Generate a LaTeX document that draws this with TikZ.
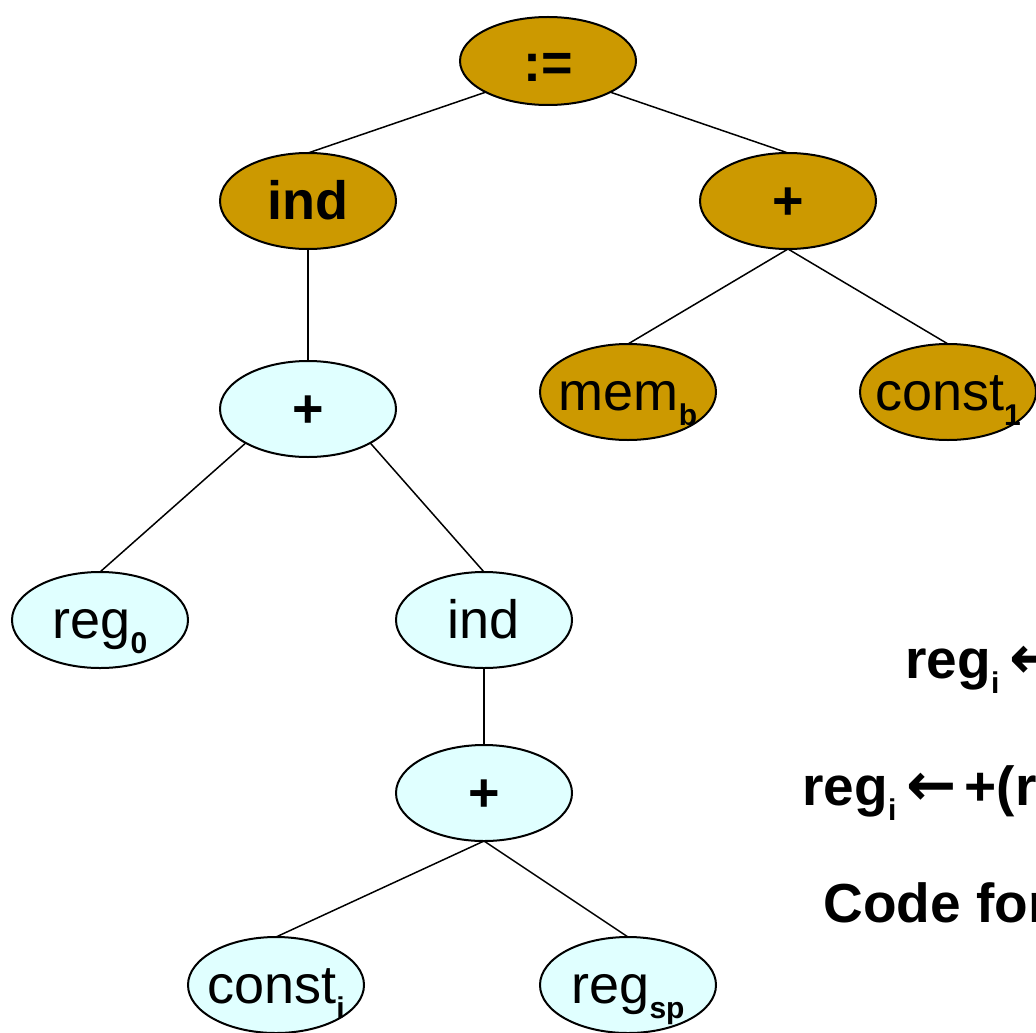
\documentclass[tikz,border=0pt]{standalone}
\usepackage{fontspec}
\setmainfont{Liberation Sans}
\newfontfamily\arrowfont{DejaVu Sans}
\usetikzlibrary{shapes.geometric}

\definecolor{goldfill}{RGB}{204,153,0}
\definecolor{cyanfill}{RGB}{224,255,255}

% lowered bold subscript, as used in the node labels
\newcommand{\lowsub}[1]{\raisebox{-7.5pt}{\fontsize{15}{15}\selectfont\bfseries #1}}
% left arrow of the rewrite rules
\newcommand{\larrow}{{\arrowfont\bfseries\fontsize{30}{30}\selectfont ←}}

\tikzset{
  treenode/.style={ellipse, draw, line width=1pt, inner sep=0pt, outer sep=0pt,
    minimum width=88pt, minimum height=48pt},
  goldnode/.style={treenode, fill=goldfill},
  cyannode/.style={treenode, fill=cyanfill},
  lbl/.style={inner sep=0pt, outer sep=0pt, text height=18pt, text depth=0pt,
    font=\fontsize{27}{27}\selectfont},
  boldlbl/.style={lbl, font=\fontsize{27}{27}\selectfont\bfseries},
  sidetext/.style={anchor=base west, inner sep=0pt,
    font=\fontsize{27.5}{27.5}\selectfont\bfseries},
  edge/.style={line width=0.75pt}
}

\begin{document}
\begin{tikzpicture}[x=0.5pt, y=-0.5pt]
  \useasboundingbox (0,0) rectangle (1036,1032);
  \clip (0,0) rectangle (1036,1032);

  % tree nodes
  \node[goldnode, minimum height=44pt] (assign) at (548,61) {};
  \node[goldnode] (indA)   at (308,201) {};
  \node[goldnode] (plusA)  at (788,201) {};
  \node[goldnode] (memb)   at (628,392) {};
  \node[goldnode] (const1) at (948,392) {};
  \node[cyannode] (plusB)  at (308,409) {};
  \node[cyannode] (reg0)   at (100,620) {};
  \node[cyannode] (indB)   at (484,620) {};
  \node[cyannode] (plusC)  at (484,793) {};
  \node[cyannode] (consti) at (276,985) {};
  \node[cyannode] (regsp)  at (628,985) {};

  % labels
  \node[boldlbl, yshift=-1.5pt] (assign-t) at (assign) {:=};
  \node[boldlbl] (indA-t)   at (indA)   {ind};
  \node[boldlbl] (plusA-t)  at (plusA)  {+};
  \node[lbl]     (memb-t)   at (memb)   {mem\lowsub{b}};
  \node[lbl]     (const1-t) at (const1) {const\lowsub{1}};
  \node[boldlbl] (plusB-t)  at (plusB)  {+};
  \node[lbl]     (reg0-t)   at (reg0)   {reg\lowsub{0}};
  \node[lbl]     (indB-t)   at (indB)   {ind};
  \node[boldlbl] (plusC-t)  at (plusC)  {+};
  \node[lbl]     (consti-t) at (consti) {const\lowsub{i}};
  \node[lbl]     (regsp-t)  at (regsp)  {reg\lowsub{sp}};

  % connectors
  \draw[edge] (assign.south west) -- (indA.north);
  \draw[edge] (assign.south east) -- (plusA.north);
  \draw[edge] (indA.south) -- (plusB.north);
  \draw[edge] (plusA.south) -- (memb.north);
  \draw[edge] (plusA.south) -- (const1.north);
  \draw[edge] (plusB.south west) -- (reg0.north);
  \draw[edge] (plusB.south east) -- (indB.north);
  \draw[edge] (indB.south) -- (plusC.north);
  \draw[edge] (plusC.south) -- (consti.north);
  \draw[edge] (plusC.south) -- (regsp.north);

  % rewrite rules beside the tree, running past the right edge
  \node[sidetext] (rule1) at (905,678) {reg\lowsub{i}\hspace{5pt}\larrow};
  \node[sidetext] (rule2) at (802,805) {reg\lowsub{i}\hspace{5pt}\larrow\hspace{4pt}+(r};
  \node[sidetext] (rule3) at (823,922) {Code for};
\end{tikzpicture}
\end{document}
